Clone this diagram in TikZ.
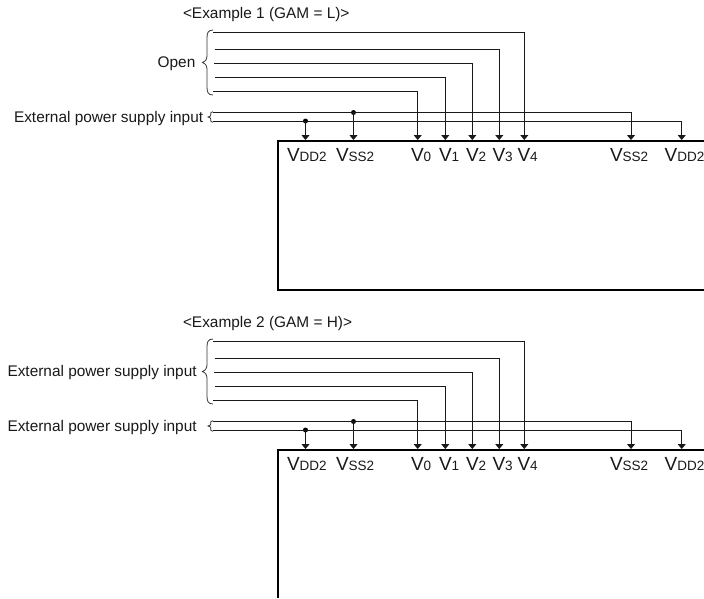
\documentclass[tikz,border=0pt]{standalone}
\usepackage{fontspec}
\setmainfont{Liberation Sans}
\usetikzlibrary{arrows.meta}
\tikzset{
  wire/.style={line width=0.9pt,black!90},
  feed/.style={wire,-{Triangle[length=5pt,width=8pt]}},
  chipline/.style={line width=1.8pt,line cap=butt},
  txt/.style={anchor=base west,inner sep=0pt,outer sep=0pt,font=\fontsize{15.4}{17}\selectfont,text=black!90},
  pin/.style={anchor=base west,inner sep=0pt,outer sep=0pt,text=black!90},
  dot/.style={circle,fill=black,inner sep=0pt,minimum size=5pt},
  brace/.style={line width=0.8pt,black!80}
}
\newcommand{\pinlabel}[1]{{\fontsize{19}{20}\selectfont V}{\fontsize{13.5}{16}\selectfont #1}}
\newcommand{\block}[5]{%
\begin{scope}[shift={(0,#2)}]
  \node[txt] (#1title) at (183,18) {#3};
  \node[txt] (#1open) at (#5,67) {#4};
  % large brace
  \draw[brace] (213,30) .. controls (208,30) and (207,33) .. (207,38) -- (207,55) .. controls (207,59) and (206,61) .. (202.5,62.5) .. controls (206,64) and (207,66) .. (207,70) -- (207,87) .. controls (207,92) and (208,95) .. (213,95);
  % small brace
  \draw[brace] (213,111.7) .. controls (210.5,111.7) and (210.7,113) .. (210.7,115) .. controls (210.7,116) and (210,116.5) .. (208,117) .. controls (210,117.5) and (210.7,118) .. (210.7,119) .. controls (210.7,121) and (210.5,122.3) .. (213,122.3);
  % pins on the chip
  \foreach \n/\x in {vddl/305.5,vssl/353.5,vzero/417.7,vone/445.3,vtwo/472.3,vthree/499.3,vfour/524.3,vssr/631,vddr/681.7}{
    \coordinate (#1\n) at (\x,140);
  }
  \foreach \n/\x/\y in {azero/213/91,aone/214.5/77,atwo/214/63,athree/214.5/49.5,afour/213/32.5,bzero/417.7/91,bone/445.3/77,btwo/472.3/63,bthree/499.3/49.5,bfour/524.3/32.5,pss/213/112.5,pdd/213/121,qss/631/112.5,qdd/681.7/121}{
    \coordinate (#1\n) at (\x,\y);
  }
  \node[dot] (#1jss) at (353.5,112.5) {};
  \node[dot] (#1jdd) at (305.5,121) {};
  \draw[feed] (#1azero) -- (#1bzero) -- (#1vzero);
  \draw[feed] (#1aone) -- (#1bone) -- (#1vone);
  \draw[feed] (#1atwo) -- (#1btwo) -- (#1vtwo);
  \draw[feed] (#1athree) -- (#1bthree) -- (#1vthree);
  \draw[feed] (#1afour) -- (#1bfour) -- (#1vfour);
  \draw[feed] (#1pss) -- (#1qss) -- (#1vssr);
  \draw[feed] (#1pdd) -- (#1qdd) -- (#1vddr);
  \draw[feed] (#1jss.center) -- (#1vssl);
  \draw[feed] (#1jdd.center) -- (#1vddl);
  % pin labels
  \node[pin] (#1lddl) at (287,161.5) {\pinlabel{DD2}};
  \node[pin] (#1lssl) at (336,161.5) {\pinlabel{SS2}};
  \node[pin] (#1lzero) at (411,161.5) {\pinlabel{0}};
  \node[pin] (#1lone) at (439,161.5) {\pinlabel{1}};
  \node[pin] (#1ltwo) at (466,161.5) {\pinlabel{2}};
  \node[pin] (#1lthree) at (492.5,161.5) {\pinlabel{3}};
  \node[pin] (#1lfour) at (517.5,161.5) {\pinlabel{4}};
  \node[pin] (#1lssr) at (610,161.5) {\pinlabel{SS2}};
  \node[pin] (#1lddr) at (664.7,161.5) {\pinlabel{DD2}};
\end{scope}}
\begin{document}
\begin{tikzpicture}[x=1pt,y=-1pt]
  \useasboundingbox (0,0) rectangle (704,598);
  \block{a}{0}{<Example 1 (GAM = L)>}{Open}{157.7}
  \node[txt] (aext) at (14,122) {External power supply input};
  \draw[chipline] (704,290) -- (278,290) -- (278,141) -- (704,141);
  \block{b}{309}{<Example 2 (GAM = H)>}{External power supply input}{7.5}
  \node[txt] (bext) at (7.5,431) {External power supply input};
  \draw[chipline] (278,598) -- (278,450) -- (704,450);
\end{tikzpicture}
\end{document}
